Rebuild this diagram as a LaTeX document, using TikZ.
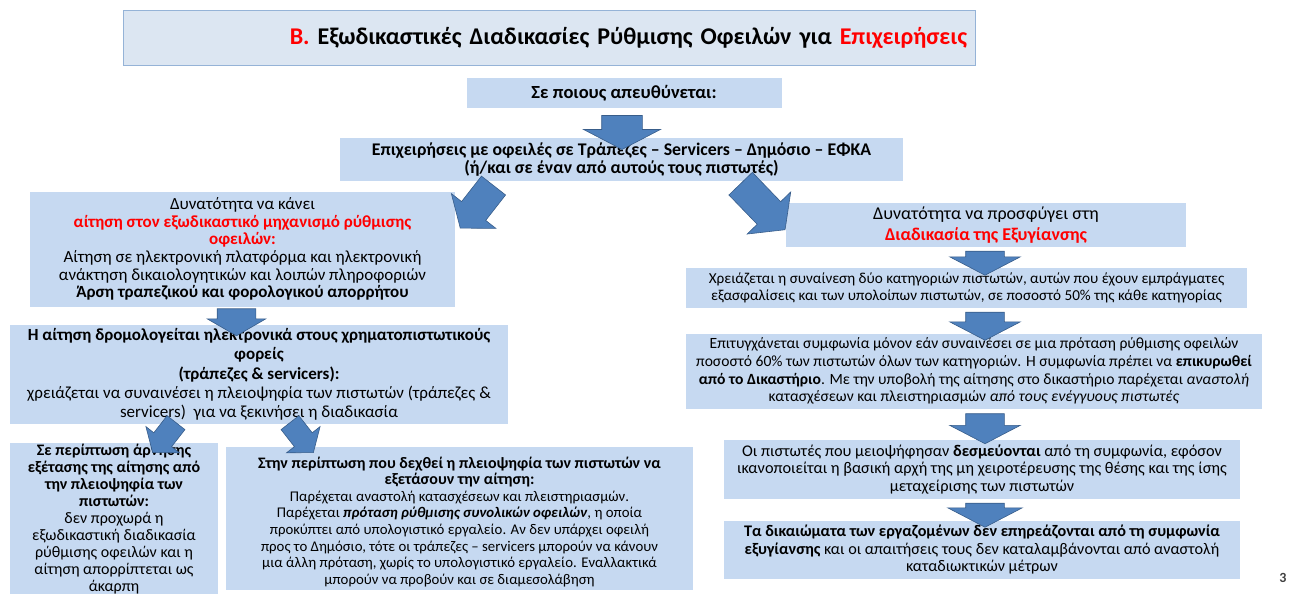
\documentclass[tikz,border=0pt]{standalone}
\usepackage{fontspec}
\setmainfont{Carlito}
\usetikzlibrary{shapes.arrows,calc}

\definecolor{boxfill}{RGB}{198,217,241}
\definecolor{titlefill}{RGB}{220,230,242}
\definecolor{titledraw}{RGB}{149,179,215}
\definecolor{arrfill}{RGB}{79,129,189}
\definecolor{arrdraw}{RGB}{56,93,138}

\begin{document}
\begin{tikzpicture}[x=1pt, y=-1pt,
    box/.style={fill=boxfill, inner sep=0pt, align=center},
    blk/.style={single arrow, fill=arrfill, draw=arrdraw, line width=0.6pt, inner xsep=0pt,
      inner ysep=19pt, single arrow head extend=16pt, single arrow tip angle=125},
  ]
    \useasboundingbox (0,0) rectangle (1305,594);

    % Title banner (text sits to the right)
    \node[fill=titlefill, draw=titledraw, line width=0.8pt, minimum width=852pt, minimum height=55pt,
      text width=836pt, align=right, inner xsep=8pt, font=\fontsize{24}{26}\selectfont\bfseries]
      (title) at (549,37.5) {\textcolor{red}{Β.} Εξωδικαστικές Διαδικασίες Ρύθμισης Οφειλών για \textcolor{red}{Επιχειρήσεις}};

    % Who it is for
    \node[box, minimum width=315pt, minimum height=30pt, font=\fontsize{18.5}{20}\selectfont\bfseries]
      (target) at (624,93) {Σε ποιους απευθύνεται:};
    \node[box, minimum width=563pt, minimum height=43pt, font=\fontsize{17.8}{18.5}\selectfont\bfseries]
      (who) at (621.5,159.5)
      {Επιχειρήσεις με οφειλές σε Τράπεζες – Servicers – Δημόσιο – ΕΦΚΑ\\
       (ή/και σε έναν από αυτούς τους πιστωτές)};

    % Left branch: out-of-court mechanism
    \node[box, minimum width=425pt, minimum height=115pt, font=\fontsize{17}{17.7}\selectfont]
      (oos) at (242.5,249)
      {Δυνατότητα να κάνει\\
       \textcolor{red}{\bfseries αίτηση στον εξωδικαστικό μηχανισμό ρύθμισης}\\
       \textcolor{red}{\bfseries οφειλών:}\\
       Αίτηση σε ηλεκτρονική πλατφόρμα και ηλεκτρονική\\
       ανάκτηση δικαιολογητικών και λοιπών πληροφοριών\\
       \textbf{Άρση τραπεζικού και φορολογικού απορρήτου}};
    \node[box, minimum width=498pt, minimum height=99pt, font=\fontsize{17}{19.3}\selectfont]
      (route) at (259,374.5)
      {\textbf{Η αίτηση δρομολογείται ηλεκτρονικά στους χρηματοπιστωτικούς}\\
       \textbf{φορείς}\\
       \textbf{(τράπεζες \& servicers):}\\
       χρειάζεται να συναινέσει η πλειοψηφία των πιστωτών (τράπεζες \&\\
       servicers)\ \ για να ξεκινήσει η διαδικασία};
    \node[box, minimum width=208pt, minimum height=151pt, anchor=north, font=\fontsize{16}{17}\selectfont]
      (refuse) at (114,443)
      {\textbf{Σε περίπτωση άρνησης}\\
       \textbf{εξέτασης της αίτησης από}\\
       \textbf{την πλειοψηφία των}\\
       \textbf{πιστωτών:}\\
       δεν προχωρά η\\
       εξωδικαστική διαδικασία\\
       ρύθμισης οφειλών και η\\
       αίτηση απορρίπτεται ως\\
       άκαρπη};
    \node[box, minimum width=467pt, minimum height=143pt, font=\fontsize{14.8}{16.6}\selectfont]
      (accept) at (459.5,518.5)
      {\rule{0pt}{18pt}{\fontsize{16}{16.6}\selectfont\bfseries Στην περίπτωση που δεχθεί η πλειοψηφία των πιστωτών να}\\
       {\fontsize{16}{16.6}\selectfont\bfseries εξετάσουν την αίτηση:}\\
       Παρέχεται αναστολή κατασχέσεων και πλειστηριασμών.\\
       Παρέχεται \textbf{\textit{πρόταση ρύθμισης συνολικών οφειλών}}, η οποία\\
       προκύπτει από υπολογιστικό εργαλείο. Αν δεν υπάρχει οφειλή\\
       προς το Δημόσιο, τότε οι τράπεζες – servicers μπορούν να κάνουν\\
       μια άλλη πρόταση, χωρίς το υπολογιστικό εργαλείο. Εναλλακτικά\\
       μπορούν να προβούν και σε διαμεσολάβηση};

    % Right branch: restructuring procedure
    \node[box, minimum width=400pt, minimum height=44pt, font=\fontsize{18}{21}\selectfont]
      (restr) at (986,225)
      {Δυνατότητα να προσφύγει στη\\
       \textcolor{red}{\bfseries Διαδικασία της Εξυγίανσης}};
    \node[box, minimum width=561pt, minimum height=40pt, font=\fontsize{15.2}{17.5}\selectfont]
      (consent) at (966.5,288)
      {Χρειάζεται η συναίνεση δύο κατηγοριών πιστωτών, αυτών που έχουν εμπράγματες\\
       εξασφαλίσεις και των υπολοίπων πιστωτών, σε ποσοστό 50\% της κάθε κατηγορίας};
    \node[box, minimum width=576pt, minimum height=75pt, font=\fontsize{15.6}{17.8}\selectfont]
      (agree) at (974,371)
      {Επιτυγχάνεται συμφωνία μόνον εάν συναινέσει σε μια πρόταση ρύθμισης οφειλών\\
       ποσοστό 60\% των πιστωτών όλων των κατηγοριών. Η συμφωνία πρέπει να \textbf{επικυρωθεί}\\
       \textbf{από το Δικαστήριο}. Με την υποβολή της αίτησης στο δικαστήριο παρέχεται \textit{αναστολή}\\
       κατασχέσεων και πλειστηριασμών \textit{από τους ενέγγυους πιστωτές}};
    \node[box, minimum width=516pt, minimum height=59pt, font=\fontsize{16.3}{17.6}\selectfont]
      (bind) at (982,469.5)
      {Οι πιστωτές που μειοψήφησαν \textbf{δεσμεύονται} από τη συμφωνία, εφόσον\\
       ικανοποιείται η βασική αρχή της μη χειροτέρευσης της θέσης και της ίσης\\
       μεταχείρισης των πιστωτών};
    \node[box, minimum width=516pt, minimum height=58pt, font=\fontsize{16.2}{17.5}\selectfont]
      (staff) at (982,550)
      {\textbf{Τα δικαιώματα των εργαζομένων δεν επηρεάζονται από τη συμφωνία}\\
       \textbf{εξυγίανσης} και οι απαιτήσεις τους δεν καταλαμβάνονται από αναστολή\\
       καταδιωκτικών μέτρων};

    % Slide number
    \node[font=\fontsize{14}{17}\selectfont\bfseries, text=black!75] (page) at (1283,578) {3};

    % Block arrows between the boxes
    \node[blk, rotate=-90, minimum height=34pt, inner ysep=20pt, single arrow head extend=18pt]
      (a1) at ($(target.south)+(-2,19)$) {};
    \node[blk, rotate=-128, minimum height=54pt, inner ysep=15pt, single arrow head extend=13pt,
      single arrow tip angle=105] (aL) at ($(who.south)+(-141,21)$) {};
    \node[blk, rotate=-46, minimum height=64pt, inner ysep=16pt, single arrow head extend=14pt,
      single arrow tip angle=105] (aR) at ($(who.south)+(137,21)$) {};
    \node[blk, rotate=-90, minimum height=27pt, inner ysep=19pt, single arrow head extend=10pt,
      single arrow tip angle=120] (aAB) at ($(oos.south)+(-6,10)$) {};
    \node[blk, rotate=-128, minimum height=38pt, inner ysep=11pt, single arrow head extend=10pt,
      single arrow tip angle=105] (aC) at ($(route.south)+(-92,10)$) {};
    \node[blk, rotate=-52, minimum height=38pt, inner ysep=11pt, single arrow head extend=10pt,
      single arrow tip angle=105] (aD) at ($(route.south)+(40,10)$) {};
    \node[blk, rotate=-90, minimum height=24pt] (aEF) at ($(restr.south)+(-1,11)$) {};
    \node[blk, rotate=-90, minimum height=28pt] (aFG) at ($(consent.south -| restr.south)+(-1,13)$) {};
    \node[blk, rotate=-90, minimum height=30pt] (aGH) at ($(agree.south -| restr.south)+(-1,15)$) {};
    \node[blk, rotate=-90, minimum height=24pt, single arrow head extend=18pt] (aHI) at ($(bind.south)+(3,11)$) {};
  \end{tikzpicture}
\end{document}
